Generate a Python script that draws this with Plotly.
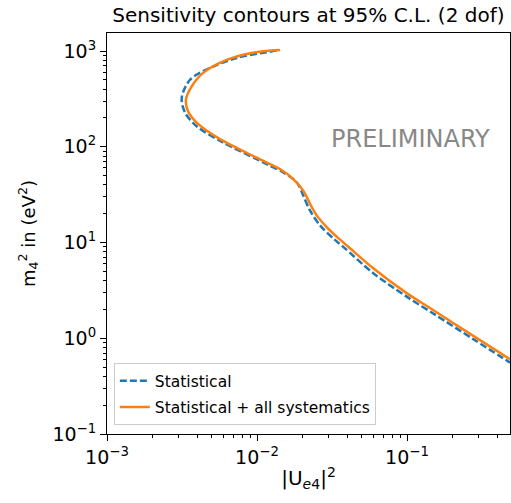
import plotly.graph_objects as go

# Statistical (blue dashed)
stat_x = [0.0135, 0.01221, 0.00732, 0.00486, 0.00358, 0.00315, 0.00331, 0.00396, 0.00593,
          0.00995, 0.01221, 0.01497, 0.01839, 0.02035, 0.02256, 0.0263, 0.0323, 0.0376,
          0.0596, 0.0995, 0.1537, 0.2767, 0.486]
stat_y = [1010, 984, 846, 666, 501, 326, 228, 164, 111,
          74.2, 63.2, 54.0, 42.6, 30.9, 21.6, 15.1, 11.0, 9.0,
          4.78, 2.72, 1.765, 0.979, 0.557]

# Statistical + all systematics (orange solid)
syst_x = [0.01423, 0.00940, 0.00628, 0.00437, 0.00367, 0.00336, 0.00347, 0.00396, 0.00567,
          0.00940, 0.01221, 0.01423, 0.01746, 0.02035, 0.02256, 0.0250, 0.02915, 0.0340,
          0.0406, 0.0596, 0.0995, 0.1423, 0.2767, 0.486]
syst_y = [1024, 960, 807, 591, 427, 311, 235, 179, 120,
          80.3, 65.9, 58.5, 46.0, 34.8, 25.4, 19.2, 14.5, 11.5,
          9.03, 5.38, 2.96, 2.07, 1.06, 0.603]

x_major = [1e-3, 1e-2, 1e-1]
x_major_text = ["10<sup>−3</sup>", "10<sup>−2</sup>", "10<sup>−1</sup>"]
y_major = [1e-1, 1e0, 1e1, 1e2, 1e3]
y_major_text = ["10<sup>−1</sup>", "10<sup>0</sup>", "10<sup>1</sup>", "10<sup>2</sup>", "10<sup>3</sup>"]

x_minor = [k * 10.0 ** n for n in (-3, -2, -1) for k in range(2, 10)]
y_minor = [k * 10.0 ** n for n in (-1, 0, 1, 2, 3) for k in range(2, 10)]

fig = go.Figure()
fig.add_trace(go.Scatter(x=stat_x, y=stat_y, mode="lines", name="Statistical", legendgroup="a",
                         line=dict(color="#1f77b4", width=2.5, dash="7px,3px", shape="spline", smoothing=0.9)))
fig.add_trace(go.Scatter(x=syst_x, y=syst_y, mode="lines", name="Statistical + all systematics", legendgroup="b",
                         line=dict(color="#ff7f0e", width=2.5, shape="spline", smoothing=0.9)))

font = "DejaVu Sans"
axis_common = dict(type="log", showgrid=False, zeroline=False, showline=True, linecolor="black",
                   linewidth=1, mirror=True, ticks="outside", ticklen=6, tickwidth=1, tickcolor="black",
                   tickmode="array", tickfont=dict(family=font, size=19, color="black"))

fig.update_xaxes(range=[-3, -0.3133], tickvals=x_major, ticktext=x_major_text,
                 minor=dict(tickmode="array", tickvals=x_minor, ticks="outside", ticklen=3, tickcolor="black"),
                 title=dict(text="|U<sub><i>e</i>4</sub>|<sup>2</sup>", font=dict(family=font, size=20, color="black"), standoff=4),
                 **axis_common)
fig.update_yaxes(range=[-1, 3.188], tickvals=y_major, ticktext=y_major_text,
                 minor=dict(tickmode="array", tickvals=y_minor, ticks="outside", ticklen=3, tickcolor="black"),
                 title=dict(text="m<sub>4</sub><sup>2</sup> in (eV<sup>2</sup>)", font=dict(family=font, size=18, color="black"), standoff=12),
                 **axis_common)

fig.add_annotation(x=0.752, y=0.735, xref="paper", yref="paper", text="PRELIMINARY", showarrow=False,
                   font=dict(family=font, size=24, color="#888888"), xanchor="center", yanchor="middle")

fig.update_layout(
    width=511, height=503,
    margin=dict(l=107, r=1, t=33, b=69),
    paper_bgcolor="white", plot_bgcolor="white",
    title=dict(text="Sensitivity contours at 95% C.L. (2 dof)", x=0.6035, xanchor="center",
               y=0.971, yanchor="middle", font=dict(family=font, size=20, color="black")),
    legend=dict(x=0.017, y=0.022, xanchor="left", yanchor="bottom", bgcolor="rgba(255,255,255,0.8)",
                bordercolor="#cccccc", borderwidth=1, font=dict(family=font, size=15.5, color="black"),
                traceorder="grouped", tracegroupgap=3),
    showlegend=True,
)

fig.write_html("out.html")
